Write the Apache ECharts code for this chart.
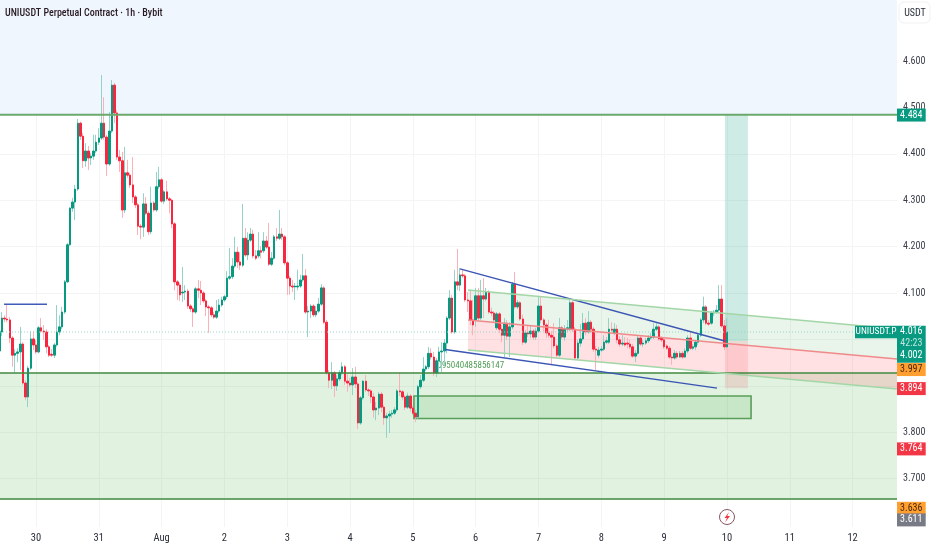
<!DOCTYPE html>
<html><head><meta charset="utf-8">
<style>html,body{margin:0;padding:0;background:#fff}#c{width:932px;height:550px}</style>
<script src="https://cdn.jsdelivr.net/npm/echarts@6/dist/echarts.min.js"></script>
</head><body><div id="c"></div>
<script>
const firstHour = -14;
const opens = [
3.975,4.016,4.046,4.044,4.042,4.003,3.966,3.970,3.973,3.990,
3.906,3.876,3.938,4.001,3.988,3.973,4.025,4.018,4.016,3.984,
3.968,3.966,3.988,4.016,4.027,4.059,4.124,4.204,4.283,4.296,
4.324,4.466,4.438,4.385,4.406,4.391,4.395,4.406,4.425,4.434,
4.466,4.436,4.378,4.449,4.548,4.488,4.393,4.385,4.279,4.359,
4.354,4.333,4.307,4.290,4.244,4.242,4.292,4.272,4.232,4.294,
4.279,4.329,4.344,4.298,4.318,4.303,4.300,4.249,4.124,4.117,
4.100,4.102,4.104,4.072,4.066,4.059,4.109,4.106,4.100,4.083,
4.070,4.068,4.053,4.048,4.061,4.074,4.085,4.092,4.132,4.135,
4.158,4.188,4.167,4.160,4.218,4.182,4.214,4.227,4.180,4.180,
4.191,4.191,4.212,4.199,4.162,4.175,4.221,4.218,4.227,4.221,
4.165,4.132,4.115,4.113,4.113,4.115,4.128,4.137,4.059,4.061,
4.072,4.053,4.061,4.076,4.111,4.037,3.928,3.912,3.928,3.900,
3.915,3.928,3.941,3.910,3.906,3.902,3.919,3.904,3.820,3.874,
3.910,3.891,3.889,3.876,3.848,3.852,3.882,3.854,3.831,3.835,
3.839,3.841,3.848,3.889,3.887,3.876,3.854,3.878,3.852,3.841,
3.833,3.898,3.912,3.936,3.941,3.970,3.962,3.928,3.954,3.973,
3.975,3.992,4.046,4.089,4.016,4.124,4.117,4.139,4.137,4.085,
4.083,4.042,4.042,4.094,4.046,4.094,4.087,4.102,4.059,4.057,
4.025,4.055,4.022,4.009,4.035,4.007,4.027,4.119,4.070,4.079,
4.044,3.994,4.014,4.012,4.018,4.005,4.018,4.072,4.042,4.031,
4.014,4.009,4.005,3.986,3.966,4.025,4.005,4.022,4.022,4.079,
4.022,3.960,3.992,4.001,4.035,4.016,4.037,4.022,3.979,3.966,
3.977,3.979,3.994,3.994,4.022,4.014,4.022,3.999,3.990,3.992,
3.992,3.990,3.984,3.964,3.970,4.003,3.990,3.992,3.997,4.003,
4.005,4.022,4.027,4.003,3.999,3.986,3.981,3.962,3.960,3.970,
3.962,3.970,3.962,3.975,4.003,3.981,3.984,3.994,4.009,4.042,
4.070,4.035,4.035,4.057,4.059,4.063,4.087,4.029,3.984];
const closes = [
4.018,4.046,4.044,4.042,4.003,3.966,3.970,3.973,3.990,3.906,
3.876,3.938,4.001,3.988,3.973,4.025,4.018,4.016,3.984,3.966,
3.966,3.988,4.016,4.027,4.059,4.124,4.204,4.283,4.296,4.324,
4.466,4.438,4.385,4.406,4.391,4.395,4.406,4.425,4.434,4.466,
4.436,4.378,4.449,4.548,4.488,4.393,4.385,4.279,4.359,4.354,
4.333,4.307,4.290,4.244,4.242,4.292,4.272,4.232,4.294,4.279,
4.329,4.344,4.298,4.318,4.303,4.300,4.249,4.124,4.117,4.096,
4.102,4.104,4.072,4.066,4.059,4.109,4.106,4.100,4.083,4.070,
4.068,4.053,4.048,4.061,4.074,4.085,4.092,4.132,4.135,4.158,
4.188,4.167,4.160,4.218,4.182,4.214,4.227,4.180,4.175,4.191,
4.188,4.212,4.199,4.162,4.175,4.221,4.218,4.227,4.221,4.165,
4.132,4.115,4.113,4.115,4.115,4.128,4.137,4.059,4.061,4.072,
4.053,4.061,4.076,4.111,4.037,3.928,3.912,3.928,3.900,3.915,
3.928,3.941,3.910,3.906,3.902,3.919,3.904,3.820,3.874,3.910,
3.891,3.889,3.876,3.848,3.852,3.882,3.854,3.831,3.835,3.839,
3.841,3.848,3.889,3.887,3.876,3.854,3.878,3.852,3.841,3.833,
3.898,3.912,3.936,3.941,3.970,3.962,3.928,3.954,3.973,3.975,
3.992,4.046,4.089,4.016,4.124,4.117,4.139,4.137,4.085,4.083,
4.042,4.031,4.094,4.046,4.094,4.087,4.102,4.059,4.057,4.042,
4.055,4.022,4.009,4.035,4.007,4.027,4.119,4.070,4.079,4.044,
3.994,4.014,4.012,4.018,4.005,4.018,4.072,4.042,4.031,4.014,
4.009,4.005,3.986,3.966,4.025,4.005,4.022,4.025,4.079,4.022,
3.960,3.992,4.001,4.035,4.016,4.037,4.022,3.979,3.977,3.977,
3.979,3.994,3.997,4.022,4.020,4.022,3.999,3.990,3.992,3.988,
3.990,3.984,3.964,3.970,4.003,3.990,3.992,3.997,4.003,4.005,
4.022,4.027,4.001,3.999,3.984,3.981,3.962,3.960,3.970,3.962,
3.970,3.962,3.975,4.003,3.981,3.984,3.994,4.009,4.042,4.070,
4.035,4.033,4.057,4.059,4.063,4.087,4.029,3.984,4.016];
const highs = [
4.031,4.059,4.052,4.076,4.048,4.007,3.979,3.981,4.027,3.994,
3.912,3.943,4.018,4.018,3.999,4.029,4.046,4.031,4.022,3.988,
3.979,3.992,4.074,4.052,4.070,4.128,4.208,4.285,4.305,4.333,
4.475,4.469,4.445,4.423,4.417,4.402,4.441,4.441,4.455,4.570,
4.522,4.441,4.490,4.559,4.553,4.494,4.408,4.404,4.415,4.387,
4.359,4.393,4.311,4.294,4.249,4.315,4.307,4.277,4.329,4.298,
4.361,4.372,4.348,4.322,4.342,4.307,4.303,4.253,4.128,4.122,
4.156,4.117,4.109,4.076,4.070,4.113,4.128,4.126,4.104,4.087,
4.074,4.072,4.059,4.085,4.087,4.092,4.096,4.147,4.197,4.175,
4.221,4.199,4.188,4.292,4.240,4.231,4.240,4.236,4.193,4.231,
4.201,4.231,4.223,4.251,4.188,4.225,4.240,4.279,4.240,4.225,
4.169,4.137,4.128,4.122,4.150,4.139,4.184,4.152,4.072,4.076,
4.076,4.072,4.089,4.119,4.115,4.042,3.934,3.951,3.932,3.923,
3.934,3.951,3.945,3.925,3.917,3.938,3.941,3.908,3.878,3.912,
3.923,3.895,3.893,3.885,3.865,3.887,3.887,3.858,3.842,3.846,
3.848,3.854,3.893,3.928,3.891,3.880,3.885,3.882,3.857,3.848,
3.902,3.923,3.962,3.945,3.984,3.981,3.973,3.960,3.984,3.994,
4.001,4.050,4.106,4.096,4.150,4.195,4.154,4.150,4.141,4.102,
4.106,4.085,4.111,4.111,4.128,4.132,4.111,4.106,4.068,4.061,
4.059,4.059,4.031,4.046,4.042,4.037,4.124,4.145,4.085,4.083,
4.053,4.020,4.031,4.031,4.022,4.025,4.092,4.092,4.046,4.035,
4.042,4.018,4.035,3.990,4.046,4.029,4.031,4.042,4.085,4.083,
4.027,3.999,4.033,4.057,4.046,4.061,4.042,4.027,3.986,3.984,
3.986,4.009,4.005,4.046,4.037,4.035,4.031,4.007,4.009,4.005,
4.003,3.999,3.990,3.977,4.007,4.007,3.999,4.003,4.009,4.014,
4.035,4.035,4.031,4.007,4.003,3.990,3.986,3.968,3.977,3.975,
3.975,3.975,3.981,4.009,4.016,3.990,3.999,4.014,4.046,4.092,
4.074,4.042,4.061,4.063,4.074,4.117,4.117,4.042,4.046];
const lows = [
3.966,4.007,4.037,4.037,3.992,3.941,3.928,3.951,3.934,3.902,
3.869,3.854,3.934,3.977,3.969,3.970,4.014,3.999,3.970,3.962,
3.962,3.960,3.984,4.009,4.022,4.055,4.122,4.202,4.275,4.257,
4.320,4.430,4.369,4.372,4.365,4.376,4.387,4.402,4.419,4.430,
4.430,4.352,4.374,4.445,4.466,4.387,4.361,4.262,4.272,4.348,
4.326,4.294,4.283,4.225,4.216,4.221,4.268,4.225,4.227,4.275,
4.275,4.324,4.294,4.292,4.298,4.272,4.240,4.106,4.085,4.083,
4.081,4.085,4.066,4.059,4.027,4.055,4.089,4.074,4.079,4.050,
4.014,4.048,4.044,4.044,4.057,4.070,4.081,4.087,4.128,4.130,
4.154,4.154,4.150,4.156,4.178,4.171,4.210,4.175,4.171,4.175,
4.175,4.186,4.195,4.158,4.158,4.171,4.212,4.214,4.214,4.160,
4.096,4.096,4.102,4.085,4.106,4.111,4.124,4.055,4.005,4.046,
4.048,4.048,4.057,4.072,4.033,3.924,3.895,3.893,3.876,3.889,
3.910,3.923,3.902,3.887,3.897,3.880,3.895,3.807,3.816,3.869,
3.887,3.878,3.863,3.831,3.826,3.837,3.843,3.816,3.788,3.798,
3.831,3.837,3.844,3.878,3.869,3.848,3.850,3.844,3.837,3.822,
3.829,3.893,3.908,3.932,3.936,3.956,3.921,3.919,3.925,3.930,
3.943,3.970,4.042,4.012,4.012,4.106,4.104,4.132,4.081,4.059,
4.031,4.009,4.027,4.040,4.042,4.046,4.083,4.055,4.050,4.035,
4.020,4.014,3.994,3.962,3.999,3.962,4.022,4.066,4.066,4.040,
3.988,3.990,4.005,4.003,3.999,3.999,4.014,4.035,4.018,4.003,
4.003,3.945,3.981,3.962,3.962,4.001,3.997,4.016,4.018,4.016,
3.956,3.956,3.984,3.997,4.009,4.012,4.014,3.973,3.934,3.960,
3.973,3.975,3.990,3.990,4.016,4.009,3.992,3.984,3.986,3.984,
3.981,3.979,3.960,3.951,3.966,3.986,3.984,3.988,3.992,3.999,
4.001,4.018,3.997,3.994,3.979,3.977,3.958,3.945,3.956,3.958,
3.960,3.958,3.960,3.970,3.977,3.977,3.977,3.988,4.005,4.035,
4.031,4.029,4.031,4.050,4.055,4.059,4.025,3.977,3.981];

const dayHours = [0,24,48,72,96,120,144,168,192,216,240,264,288,312];
const dayLabels = ['30','31','Aug','2','3','4','5','6','7','8','9','10','11','12'];
const priceTicks = [3.7,3.8,3.9,4.0,4.1,4.2,4.3,4.4,4.5,4.6];
const priceLabels = [3.7,3.8,4.1,4.2,4.3,4.4,4.5,4.6];

const xMin = -13.75, xMax = 328.96, yMin = 3.5957, yMax = 4.7315;

const resistance = 4.484, zoneTop = 3.9275, zoneBottom = 3.656, lastPrice = 4.016;
const smallLine = [[-12.2,4.076],[4.2,4.076]];
const wedgeUpper = [[162,4.152],[263.2,3.9966]];
const wedgeLower = [[156.3,3.978],[260.2,3.895]];
const channelHours = [165.05,328.96];
const channelTop = [4.1065,4.0225];
const channelMid = [4.042,3.958];
const channelBottom = [3.977,3.893];
const longBoxHours = [263.2,272];
const longBoxPrices = [4.484,3.9965,3.895];
const demandHours = [144.4,273.2];
const demandPrices = [3.878,3.8295];
const noteHour = 151.7, notePrice = 3.943, noteText = '4095040485856147';

const pillTexts = ['4.484','3.997','3.894','3.764','3.636','3.611'];
const pillPrices = [4.4835,3.935,3.894,3.764,3.636,3.611];
const pillColors = ['#089981','#ff9f2f','#f23645','#f23645','#ff9f2f','#787b86'];
const pillInk = ['#fff','#4a2a10','#fff','#fff','#4a2a10','#fff'];

const UP = '#089981', DOWN = '#f6273f', UPW = '#93d3c8', DOWNW = '#f9b2b8';
const FONT = '"Roboto Condensed","Roboto",sans-serif';

const hoursOf = i => firstHour + i;
const wickData = opens.map((o,i)=>[hoursOf(i),o,closes[i],lows[i],highs[i]]);
const bodyData = opens.map((o,i)=>[hoursOf(i),o,closes[i],Math.min(o,closes[i]),Math.max(o,closes[i])]);

const rectPoly = (h0,h1,p0,p1)=>[[h0,p0],[h1,p0],[h1,p1],[h0,p1]];
const backShapes = [
  {pts:rectPoly(xMin,xMax,yMax,resistance),fill:'#eff6fe'},
  {pts:rectPoly(xMin,xMax,zoneTop,zoneBottom),fill:'rgba(76,175,80,0.17)'},
  {pts:[[channelHours[0],channelTop[0]],[channelHours[1],channelTop[1]],[channelHours[1],channelMid[1]],[channelHours[0],channelMid[0]]],fill:'rgba(76,175,80,0.12)'},
  {pts:[[channelHours[0],channelMid[0]],[channelHours[1],channelMid[1]],[channelHours[1],channelBottom[1]],[channelHours[0],channelBottom[0]]],fill:'rgba(255,70,80,0.16)'},
  {pts:rectPoly(demandHours[0],demandHours[1],demandPrices[0],demandPrices[1]),fill:'rgba(76,175,80,0.17)',stroke:'#5a9e5a',lw:1.6},
  {pts:rectPoly(longBoxHours[0],longBoxHours[1],longBoxPrices[0],longBoxPrices[1]),fill:'rgba(8,153,129,0.2)'},
  {pts:rectPoly(longBoxHours[0],longBoxHours[1],longBoxPrices[1],longBoxPrices[2]),fill:'rgba(242,54,69,0.14)'}
];
const makeLine = (pts,color,width,dash)=>({type:'line',data:pts,showSymbol:false,silent:true,z:4,animation:false,
  lineStyle:{color,width,type:dash||'solid',cap:'butt'},itemStyle:{color}});

const chart = echarts.init(document.getElementById('c'),null,{renderer:'canvas'});
chart.setOption({
  animation:false,
  backgroundColor:'#fff',
  title:{text:'UNIUSDT Perpetual Contract · 1h · Bybit',left:5,top:8,padding:0,
    textStyle:{fontFamily:'Roboto Condensed',fontSize:10,fontWeight:500,color:'#2a1a24',lineHeight:10}},
  grid:{left:0,right:35,top:0,bottom:23,containLabel:false},
  xAxis:{type:'value',min:xMin,max:xMax,
    axisLine:{show:false},
    axisTick:{show:false,customValues:dayHours},
    splitLine:{show:true,lineStyle:{color:'#f3f4f6',width:1}},
    axisLabel:{customValues:dayHours,margin:6,color:'#2a2e39',fontFamily:FONT,fontSize:10.5,hideOverlap:false,
      showMinLabel:true,showMaxLabel:true,
      formatter:v=>dayLabels[dayHours.indexOf(v)]||''}},
  yAxis:{type:'value',position:'right',min:yMin,max:yMax,
    axisLine:{show:false},
    axisTick:{show:false,customValues:priceTicks},
    splitLine:{show:true,lineStyle:{color:'#f3f4f6',width:1}},
    axisLabel:{customValues:priceLabels,margin:6,color:'#3a3e49',fontFamily:FONT,fontSize:10,formatter:v=>v.toFixed(3)}},
  graphic:[
    {type:'rect',z:20,shape:{x:899,y:2,width:31,height:21,r:5},style:{fill:'#fff',stroke:'#f0f1f3',lineWidth:1}},
    {type:'text',z:21,style:{x:915,y:13,text:'USDT',align:'center',verticalAlign:'middle',fill:'#2a2e39',font:'10px '+FONT}},
    {type:'circle',z:21,shape:{cx:727,cy:517,r:7.5},style:{fill:'#fff',stroke:'#8a5560',lineWidth:1}},
    {type:'polygon',z:22,shape:{points:[[729,512],[724.5,518],[727,518],[725,522.5],[730,516],[727.3,516]]},style:{fill:'#f23645'}}
  ],
  series:[
    {type:'custom',z:1,silent:true,clip:true,animation:false,data:backShapes.map((s,i)=>[i]),encode:{x:0},
      renderItem:(p,api)=>{const s=backShapes[p.dataIndex];
        return {type:'polygon',shape:{points:s.pts.map(q=>api.coord(q))},
          style:{fill:s.fill,stroke:s.stroke||null,lineWidth:s.lw||0}};}},
    {type:'custom',z:2,silent:true,clip:false,animation:false,data:[[noteHour,notePrice]],encode:{x:0,y:1},
      renderItem:(p,api)=>{const c=api.coord([api.value(0),api.value(1)]);
        return {type:'text',style:{x:c[0],y:c[1],text:noteText,fill:'#4f9d55',font:'9px '+FONT,verticalAlign:'middle'}};}},
    {type:'candlestick',z:3,silent:true,animation:false,barWidth:1,clip:true,progressive:0,large:false,
      encode:{x:0,y:[1,2,3,4]},data:wickData,
      itemStyle:{color:UPW,color0:DOWNW,borderColor:UPW,borderColor0:DOWNW,borderWidth:1}},
    {type:'candlestick',z:3.5,silent:true,animation:false,barWidth:2,clip:true,progressive:0,large:false,
      encode:{x:0,y:[1,2,3,4]},data:bodyData,
      itemStyle:{color:UP,color0:DOWN,borderColor:UP,borderColor0:DOWN,borderWidth:1}},
    makeLine([[xMin,lastPrice],[xMax,lastPrice]],'#9ad6cb',1,[1,2]),
    makeLine([[xMin,resistance],[xMax,resistance]],'#6aa96a',2),
    makeLine([[xMin,zoneTop],[xMax,zoneTop]],'#3f8a3f',1.5),
    makeLine([[xMin,zoneBottom],[xMax,zoneBottom]],'#3f8a3f',1.5),
    makeLine(smallLine,'#3f5cb8',1.5),
    makeLine(wedgeUpper,'#3a55b4',1.5),
    makeLine(wedgeLower,'#3a55b4',1.5),
    makeLine([[channelHours[0],channelTop[0]],[channelHours[1],channelTop[1]]],'#a3d6a6',1.5),
    makeLine([[channelHours[0],channelMid[0]],[channelHours[1],channelMid[1]]],'#f08a8a',1.5),
    makeLine([[channelHours[0],channelBottom[0]],[channelHours[1],channelBottom[1]]],'#a3d6a6',1.5),
    {type:'custom',z:10,silent:true,clip:false,animation:false,
      data:pillTexts.map((t,i)=>[xMax,pillPrices[i]]),encode:{x:0,y:1},
      renderItem:(p,api)=>{const c=api.coord([api.value(0),api.value(1)]),i=p.dataIndex;
        return {type:'group',children:[
          {type:'rect',shape:{x:c[0],y:c[1]-6.5,width:28.7,height:13},style:{fill:pillColors[i]}},
          {type:'text',style:{x:c[0]+14.3,y:c[1],text:pillTexts[i],align:'center',verticalAlign:'middle',fill:pillInk[i],font:'10px '+FONT}}
        ]};}},
    {type:'custom',z:11,silent:true,clip:false,animation:false,data:[[xMax,lastPrice]],encode:{x:0,y:1},
      renderItem:(p,api)=>{const c=api.coord([api.value(0),api.value(1)]);
        const x=c[0],y=c[1];
        return {type:'group',children:[
          {type:'rect',shape:{x:x,y:y-6.3,width:28.7,height:37},style:{fill:'#089981'}},
          {type:'rect',shape:{x:x-42,y:y-6.3,width:42,height:12.6},style:{fill:'#089981'}},
          {type:'text',style:{x:x-21,y:y,text:'UNIUSDT.P',align:'center',verticalAlign:'middle',fill:'#fff',font:'9.5px '+FONT}},
          {type:'text',style:{x:x+14.3,y:y,text:lastPrice.toFixed(3),align:'center',verticalAlign:'middle',fill:'#fff',font:'10px '+FONT}},
          {type:'text',style:{x:x+14.3,y:y+12,text:'42:23',align:'center',verticalAlign:'middle',fill:'#bfe6de',font:'10px '+FONT}},
          {type:'text',style:{x:x+14.3,y:y+24,text:'4.002',align:'center',verticalAlign:'middle',fill:'#fff',font:'10px '+FONT}}
        ]};}}
  ]
});
</script></body></html>
